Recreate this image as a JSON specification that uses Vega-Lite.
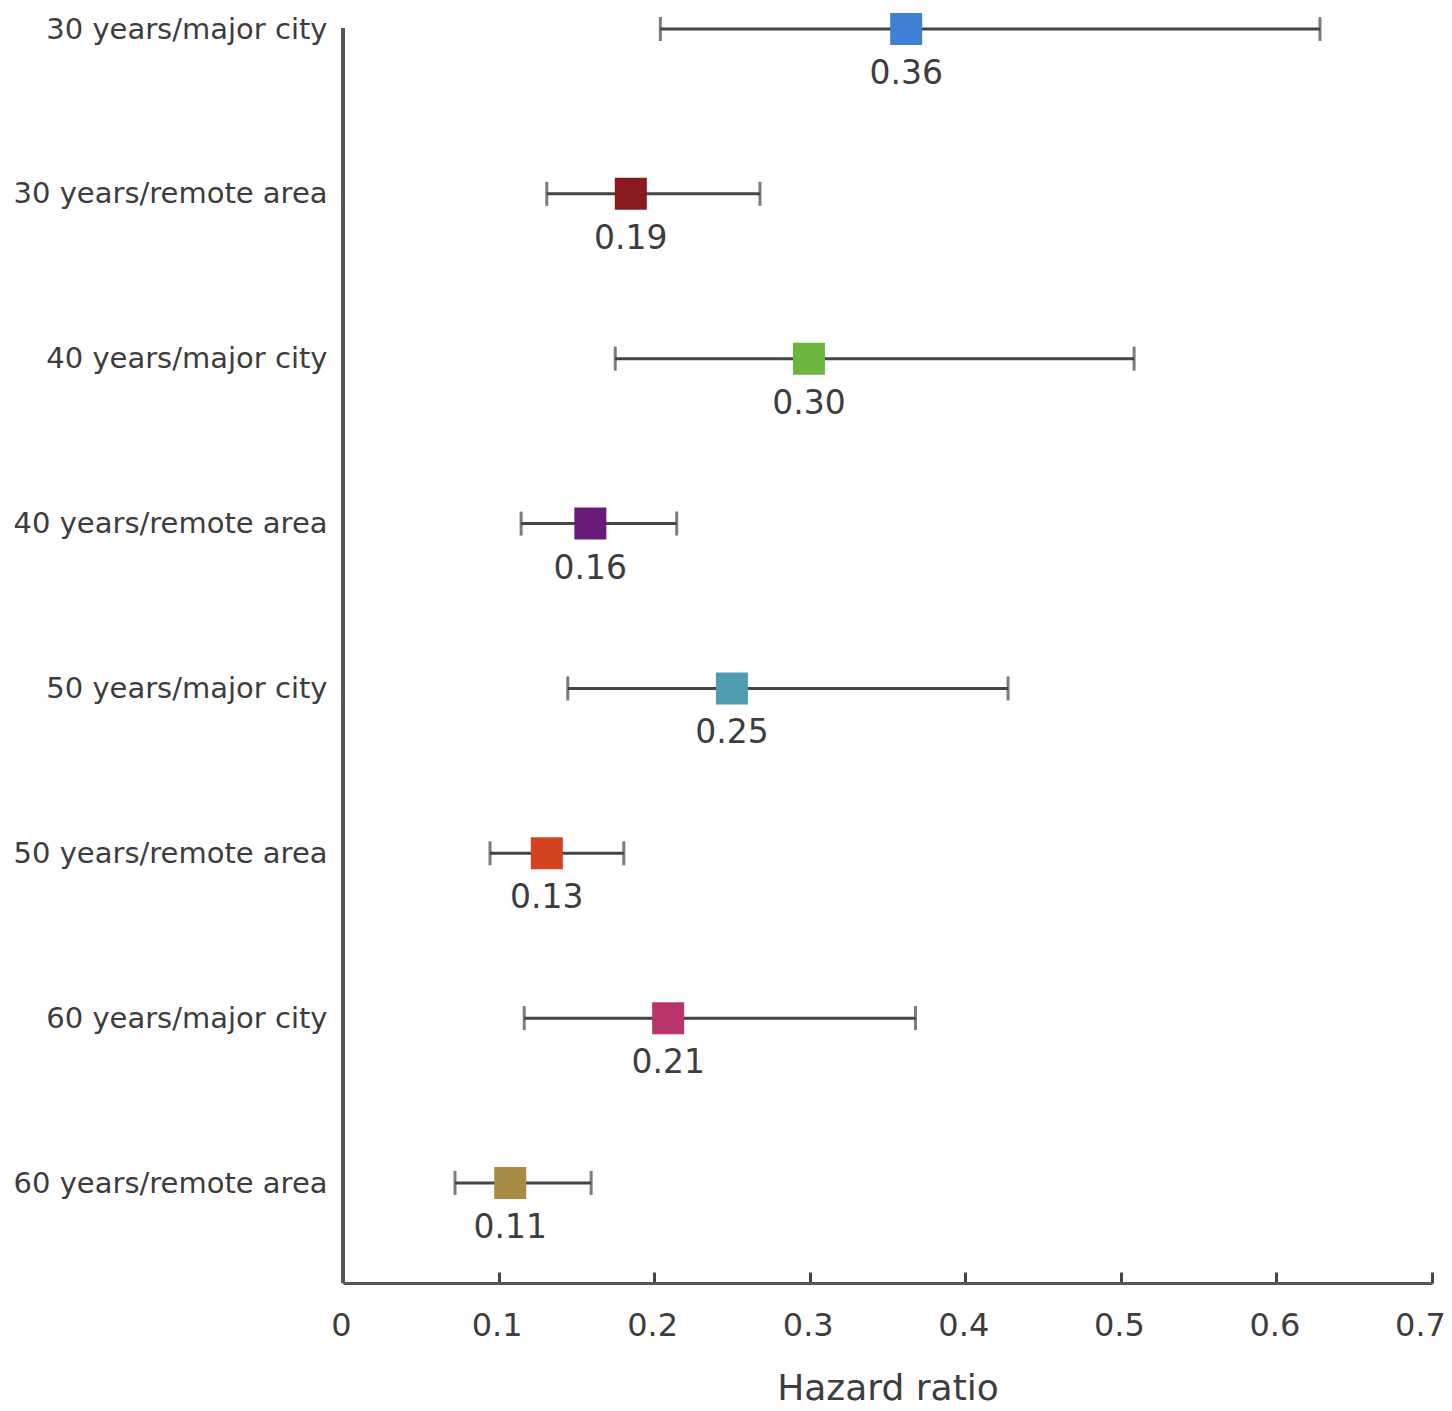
{
  "$schema": "https://vega.github.io/schema/vega-lite/v6.json",
  "autosize": "none",
  "padding": {"left": 343, "top": 28, "right": 20, "bottom": 128},
  "width": 1089,
  "height": 1255,
  "background": "white",
  "data": {
    "values": [
      {"group": "30 years/major city", "hr": 0.362, "lo": 0.204, "hi": 0.628, "lab": "0.36"},
      {"group": "30 years/remote area", "hr": 0.185, "lo": 0.131, "hi": 0.268, "lab": "0.19"},
      {"group": "40 years/major city", "hr": 0.2995, "lo": 0.175, "hi": 0.5085, "lab": "0.30"},
      {"group": "40 years/remote area", "hr": 0.159, "lo": 0.1145, "hi": 0.2145, "lab": "0.16"},
      {"group": "50 years/major city", "hr": 0.25, "lo": 0.1445, "hi": 0.4275, "lab": "0.25"},
      {"group": "50 years/remote area", "hr": 0.131, "lo": 0.0945, "hi": 0.1805, "lab": "0.13"},
      {"group": "60 years/major city", "hr": 0.209, "lo": 0.1165, "hi": 0.368, "lab": "0.21"},
      {"group": "60 years/remote area", "hr": 0.1075, "lo": 0.072, "hi": 0.1595, "lab": "0.11"}
    ]
  },
  "encoding": {
    "y": {
      "field": "group",
      "type": "nominal",
      "sort": null,
      "scale": {"type": "point", "range": [1, 1155], "padding": 0},
      "axis": {
        "title": null,
        "domain": false,
        "ticks": false,
        "grid": false,
        "labelPadding": 16,
        "labelFont": "DejaVu Sans",
        "labelFontSize": 29,
        "labelColor": "#3d3d3d",
        "labelLimit": 400
      }
    }
  },
  "layer": [
    {
      "mark": {"type": "rule", "color": "#555555", "strokeWidth": 3},
      "encoding": {"x": {"datum": 0, "type": "quantitative"}, "y": null}
    },
    {
      "mark": {
        "type": "errorbar",
        "color": "#454545",
        "rule": {"strokeWidth": 3},
        "ticks": {"size": 24, "thickness": 3}
      },
      "encoding": {
        "x": {
          "field": "lo",
          "type": "quantitative",
          "scale": {"domain": [0, 0.7], "nice": false},
          "axis": {
            "title": "Hazard ratio",
            "values": [0, 0.1, 0.2, 0.3, 0.4, 0.5, 0.6, 0.7],
            "format": "~g",
            "grid": false,
            "domainColor": "#555555",
            "domainWidth": 3,
            "tickColor": "#444444",
            "tickWidth": 3,
            "tickSize": -11,
            "labelFlush": false,
            "labelPadding": 53,
            "labelBaseline": "middle",
            "labelOffset": {"condition": {"test": "datum.value >= 0.7", "value": -12}, "value": -2},
            "labelFont": "DejaVu Sans",
            "labelFontSize": 32,
            "labelColor": "#3d3d3d",
            "titleFont": "DejaVu Sans",
            "titleFontSize": 36,
            "titleFontWeight": "normal",
            "titleColor": "#3d3d3d",
            "titlePadding": 30
          }
        },
        "x2": {"field": "hi"}
      }
    },
    {
      "mark": {"type": "square", "size": 1024, "filled": true, "opacity": 1},
      "encoding": {
        "x": {"field": "hr", "type": "quantitative"},
        "color": {
          "field": "group",
          "type": "nominal",
          "legend": null,
          "scale": {
            "domain": [
              "30 years/major city", "30 years/remote area",
              "40 years/major city", "40 years/remote area",
              "50 years/major city", "50 years/remote area",
              "60 years/major city", "60 years/remote area"
            ],
            "range": ["#3f7fd6", "#8b1a1f", "#6ab63e", "#6a1b7a", "#4f9bb0", "#d4431f", "#b8346a", "#a88b44"]
          }
        }
      }
    },
    {
      "mark": {
        "type": "text",
        "dy": 45,
        "font": "DejaVu Sans",
        "fontSize": 33,
        "color": "#3d3d3d"
      },
      "encoding": {
        "x": {"field": "hr", "type": "quantitative"},
        "text": {"field": "lab"}
      }
    }
  ],
  "config": {"view": {"stroke": null}}
}
